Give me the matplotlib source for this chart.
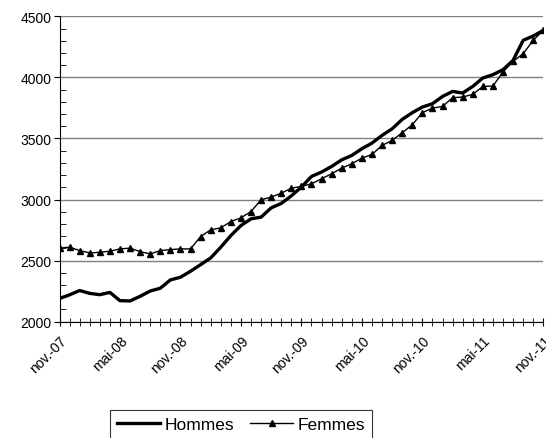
import numpy as np
import matplotlib.pyplot as plt
from matplotlib.ticker import MultipleLocator

plt.rcParams['font.family'] = ['Liberation Sans', 'DejaVu Sans']

# monthly series nov-07 .. nov-11
months = ['nov.-07', 'déc.-07', 'janv.-08', 'févr.-08', 'mars-08', 'avr.-08', 'mai-08',
          'juin-08', 'juil.-08', 'août-08', 'sept.-08', 'oct.-08', 'nov.-08',
          'déc.-08', 'janv.-09', 'févr.-09', 'mars-09', 'avr.-09', 'mai-09',
          'juin-09', 'juil.-09', 'août-09', 'sept.-09', 'oct.-09', 'nov.-09',
          'déc.-09', 'janv.-10', 'févr.-10', 'mars-10', 'avr.-10', 'mai-10',
          'juin-10', 'juil.-10', 'août-10', 'sept.-10', 'oct.-10', 'nov.-10',
          'déc.-10', 'janv.-11', 'févr.-11', 'mars-11', 'avr.-11', 'mai-11',
          'juin-11', 'juil.-11', 'août-11', 'sept.-11', 'oct.-11', 'nov.-11']

hommes = [2190, 2220, 2255, 2232, 2221, 2240, 2172, 2170, 2208, 2251,
          2274, 2342, 2364, 2413, 2467, 2522, 2610, 2705, 2787, 2842,
          2856, 2932, 2968, 3030, 3102, 3189, 3225, 3271, 3325, 3361,
          3416, 3462, 3525, 3579, 3656, 3711, 3757, 3784, 3844, 3885,
          3872, 3926, 3995, 4022, 4063, 4139, 4303, 4339, 4385]

femmes = [2602, 2610, 2582, 2563, 2568, 2577, 2596, 2602, 2574, 2555,
          2582, 2590, 2596, 2596, 2697, 2752, 2768, 2820, 2850, 2902,
          2998, 3020, 3052, 3093, 3107, 3129, 3170, 3211, 3257, 3293,
          3339, 3369, 3443, 3484, 3547, 3612, 3711, 3749, 3762, 3834,
          3839, 3861, 3926, 3929, 4044, 4131, 4194, 4303, 4385]

x = np.arange(len(months))

fig = plt.figure(figsize=(5.46, 4.39), dpi=100)
ax = fig.add_axes([59.5/546, 1 - 322.7/439, (543.3 - 59.5)/546, (322.7 - 17.3)/439])

ax.plot(x, hommes, color='black', lw=2.4, label='Hommes', zorder=3)
ax.plot(x, femmes, color='black', lw=1.0, marker='^', markersize=5, label='Femmes', zorder=4)

ax.set_xlim(0, len(months) - 1)
ax.set_ylim(2000, 4500)
ax.yaxis.set_major_locator(MultipleLocator(500))
ax.yaxis.set_minor_locator(MultipleLocator(100))
ax.grid(axis='y', which='major', color='#808080', lw=1)
ax.set_axisbelow(True)

ax.set_xticks(x[::6])
ax.set_xticklabels(months[::6], rotation=45, ha='right', rotation_mode='anchor')
ax.set_xticks(x, minor=True)

ax.tick_params(axis='y', which='major', direction='out', length=4, labelsize=10, pad=2)
ax.tick_params(axis='y', which='minor', direction='in', length=4)
ax.tick_params(axis='x', which='both', direction='inout', length=6, labelsize=10, pad=5)

for s in ['top', 'right']:
    ax.spines[s].set_visible(False)
for s in ['left', 'bottom']:
    ax.spines[s].set_color('black')

leg = fig.legend(loc='upper left', bbox_to_anchor=(110/546, 1 - 411/439), ncol=2,
                 fontsize=12.5, frameon=True, fancybox=False, edgecolor='black',
                 handlelength=2.5, handletextpad=0.25, columnspacing=0.9,
                 borderpad=0.4, borderaxespad=0, markerscale=0.8)
leg.get_frame().set_linewidth(0.8)

fig.savefig('out.png', dpi=100)
